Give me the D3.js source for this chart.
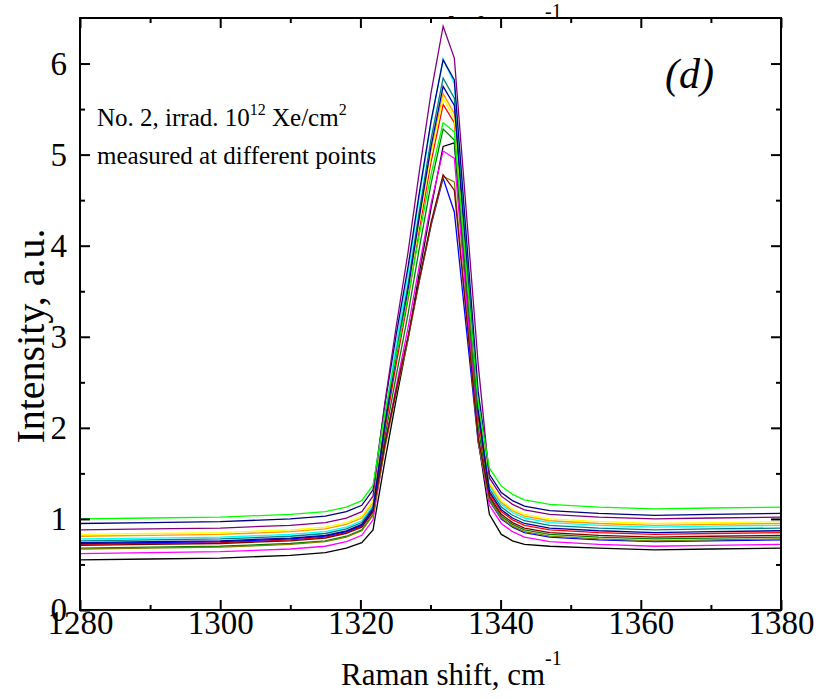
<!DOCTYPE html>
<html lang="en">
<head>
    <meta charset="UTF-8">
    <title>Raman spectra, No. 2 irradiated</title>
    <script src="https://d3js.org/d3.v7.min.js"></script>
    <style>
        body {
            margin: 0;
            background: white;
        }

        .spectrum {
            fill: none;
            stroke-width: 1.3;
            stroke-linejoin: miter;
        }

        .axis line {
            stroke: #000;
            stroke-width: 2;
        }

        .axis path {
            display: none;
        }
    </style>
</head>
<body>
    <svg id="chart" width="818" height="699"></svg>

    <script>
        // Raman shift (cm-1) of the sampled points
        const ramanShift = [1280, 1290, 1300, 1310, 1315, 1318, 1320.2, 1321.8, 1323.5, 1325.1, 1326.8,
            1328.4, 1330.1, 1331.8, 1333.4, 1335.1, 1336.8, 1338.4, 1340.1, 1341.7, 1343.4,
            1347, 1354, 1362, 1370, 1380];

        // intensity measured at different points (a.u.)
        const ptBlack   = [0.55, 0.56, 0.57, 0.60, 0.63, 0.68, 0.74, 0.88, 1.64, 2.31, 2.98, 3.70, 4.42, 5.09, 5.13, 3.50, 1.87, 1.05, 0.83, 0.76, 0.72, 0.70, 0.68, 0.66, 0.67, 0.68];
        const ptMagenta = [0.62, 0.63, 0.64, 0.67, 0.70, 0.75, 0.82, 0.99, 1.80, 2.45, 3.10, 3.78, 4.47, 5.04, 4.96, 3.43, 1.89, 1.15, 0.95, 0.86, 0.80, 0.75, 0.72, 0.70, 0.71, 0.72];
        const ptOlive   = [0.67, 0.68, 0.69, 0.72, 0.75, 0.80, 0.87, 1.04, 1.78, 2.38, 2.97, 3.61, 4.24, 4.76, 4.70, 3.28, 1.85, 1.21, 1.01, 0.92, 0.86, 0.81, 0.78, 0.76, 0.77, 0.78];
        const ptGreen   = [0.68, 0.69, 0.70, 0.73, 0.76, 0.81, 0.88, 1.05, 1.90, 2.57, 3.25, 3.97, 4.69, 5.28, 5.16, 3.59, 2.01, 1.23, 1.03, 0.94, 0.88, 0.83, 0.80, 0.78, 0.79, 0.80];
        const ptWine    = [0.71, 0.72, 0.73, 0.76, 0.79, 0.84, 0.91, 1.08, 1.82, 2.41, 3.00, 3.63, 4.26, 4.78, 4.61, 3.25, 1.89, 1.25, 1.05, 0.96, 0.90, 0.85, 0.82, 0.80, 0.81, 0.82];
        const ptRed     = [0.72, 0.73, 0.74, 0.77, 0.80, 0.85, 0.92, 1.09, 1.98, 2.70, 3.41, 4.17, 4.93, 5.55, 5.35, 3.74, 2.12, 1.28, 1.08, 0.99, 0.93, 0.88, 0.85, 0.83, 0.84, 0.85];
        const ptBlue    = [0.73, 0.74, 0.75, 0.78, 0.81, 0.86, 0.93, 1.10, 1.83, 2.41, 2.99, 3.61, 4.23, 4.74, 4.37, 3.10, 1.84, 1.20, 1.00, 0.91, 0.85, 0.80, 0.77, 0.75, 0.76, 0.77];
        const ptRoyal   = [0.74, 0.75, 0.76, 0.79, 0.82, 0.87, 0.94, 1.11, 2.04, 2.78, 3.52, 4.31, 5.10, 5.75, 5.54, 3.87, 2.19, 1.30, 1.10, 1.01, 0.95, 0.90, 0.87, 0.85, 0.86, 0.87];
        const ptDarkCyan = [0.76, 0.77, 0.78, 0.81, 0.84, 0.89, 0.96, 1.13, 2.07, 2.83, 3.58, 4.38, 5.18, 5.84, 5.62, 3.93, 2.23, 1.33, 1.13, 1.04, 0.98, 0.93, 0.90, 0.88, 0.89, 0.90];
        const ptCyan    = [0.78, 0.79, 0.80, 0.83, 0.86, 0.91, 0.98, 1.15, 2.13, 2.91, 3.70, 4.53, 5.36, 6.05, 5.78, 4.05, 2.31, 1.36, 1.16, 1.07, 1.01, 0.96, 0.93, 0.91, 0.92, 0.93];
        const ptOrange  = [0.81, 0.82, 0.83, 0.86, 0.89, 0.94, 1.01, 1.18, 2.08, 2.80, 3.51, 4.28, 5.04, 5.67, 5.45, 3.84, 2.22, 1.38, 1.18, 1.09, 1.03, 0.98, 0.95, 0.93, 0.94, 0.95];
        const ptYellow  = [0.83, 0.84, 0.85, 0.88, 0.91, 0.96, 1.03, 1.20, 2.08, 2.79, 3.50, 4.25, 5.00, 5.62, 5.40, 3.82, 2.23, 1.40, 1.20, 1.11, 1.05, 1.00, 0.97, 0.95, 0.96, 0.97];
        const ptPurple  = [0.88, 0.89, 0.90, 0.93, 0.96, 1.01, 1.08, 1.25, 2.28, 3.11, 3.93, 4.81, 5.69, 6.41, 6.06, 4.38, 2.70, 1.45, 1.25, 1.16, 1.10, 1.05, 1.02, 1.00, 1.01, 1.02];
        const ptNavy    = [0.95, 0.96, 0.97, 1.00, 1.03, 1.08, 1.15, 1.32, 2.26, 3.02, 3.77, 4.58, 5.38, 6.04, 5.82, 4.11, 2.40, 1.49, 1.29, 1.20, 1.14, 1.09, 1.06, 1.04, 1.05, 1.06];
        const ptLime    = [1.00, 1.01, 1.02, 1.05, 1.08, 1.13, 1.20, 1.37, 2.17, 2.80, 3.44, 4.12, 4.79, 5.35, 5.25, 3.76, 2.27, 1.56, 1.36, 1.27, 1.21, 1.16, 1.13, 1.11, 1.12, 1.13];

        const xTicks = [1280, 1300, 1320, 1340, 1360, 1380];
        const yTicks = [0, 1, 2, 3, 4, 5, 6];

        const spectra = [
            { values: ptBlack, color: '#000000' },
            { values: ptRed, color: '#ff0000' },
            { values: ptGreen, color: '#008000' },
            { values: ptBlue, color: '#0000ff' },
            { values: ptCyan, color: '#00ffff' },
            { values: ptMagenta, color: '#ff00ff' },
            { values: ptOrange, color: '#ff9900' },
            { values: ptYellow, color: '#ffff00' },
            { values: ptOlive, color: '#808000' },
            { values: ptNavy, color: '#000080' },
            { values: ptPurple, color: '#800080' },
            { values: ptWine, color: '#800000' },
            { values: ptDarkCyan, color: '#008080' },
            { values: ptRoyal, color: '#0000a0' },
            { values: ptLime, color: '#00ff00' }
        ];

        const serif = '"Liberation Serif"';
        const plot = { left: 80, right: 781, top: 18, bottom: 610 };
        const svg = d3.select('#chart');

        const x = d3.scaleLinear().domain([1280, 1380]).range([plot.left, plot.right]);
        const y = d3.scaleLinear().domain([0, 6.5]).range([plot.bottom, plot.top]);

        // the same axis title is drawn on top; the plot area hides most of it
        function axisTitle(baseline) {
            const t = svg.append('text')
                .attr('x', 341)
                .attr('y', baseline)
                .attr('font-family', serif)
                .attr('font-size', 31);
            t.append('tspan').text('Raman shift, cm');
            t.append('tspan').attr('dy', -20).attr('font-size', 20).text('-1');
        }
        axisTitle(38);

        svg.append('rect')
            .attr('x', plot.left)
            .attr('y', plot.top)
            .attr('width', plot.right - plot.left)
            .attr('height', plot.bottom - plot.top)
            .attr('fill', 'white');

        svg.append('clipPath').attr('id', 'clip')
            .append('rect')
            .attr('x', plot.left)
            .attr('y', plot.top)
            .attr('width', plot.right - plot.left)
            .attr('height', plot.bottom - plot.top);

        const line = d3.line()
            .x((d, i) => x(ramanShift[i]))
            .y(d => y(d));

        svg.append('g')
            .attr('clip-path', 'url(#clip)')
            .selectAll('path')
            .data(spectra)
            .join('path')
            .attr('class', 'spectrum')
            .attr('fill', 'none')
            .attr('stroke', d => d.color)
            .attr('d', d => line(d.values));

        // axes: major and minor ticks pointing inward
        const minorX = d3.range(1290, 1380, 20);
        const minorY = d3.range(0.5, 6.5, 1);
        const fmt = d3.format('d');

        function styleLabels(g) {
            g.attr('font-family', serif).attr('font-size', 33);
            g.selectAll('text').attr('font-family', serif).attr('font-size', 33).attr('fill', '#000');
        }

        svg.append('g').attr('class', 'axis')
            .attr('transform', `translate(0,${plot.bottom})`)
            .call(d3.axisBottom(x).tickValues(xTicks).tickSize(-10).tickPadding(1).tickFormat(fmt))
            .call(styleLabels);
        svg.append('g').attr('class', 'axis')
            .attr('transform', `translate(0,${plot.bottom})`)
            .call(d3.axisBottom(x).tickValues(minorX).tickSize(-5).tickFormat(''));

        svg.append('g').attr('class', 'axis')
            .attr('transform', `translate(0,${plot.top})`)
            .call(d3.axisTop(x).tickValues(xTicks).tickSize(-10).tickFormat(''));
        svg.append('g').attr('class', 'axis')
            .attr('transform', `translate(0,${plot.top})`)
            .call(d3.axisTop(x).tickValues(minorX).tickSize(-5).tickFormat(''));

        svg.append('g').attr('class', 'axis')
            .attr('transform', `translate(${plot.left},0)`)
            .call(d3.axisLeft(y).tickValues(yTicks).tickSize(-10).tickPadding(13).tickFormat(fmt))
            .call(styleLabels);
        svg.append('g').attr('class', 'axis')
            .attr('transform', `translate(${plot.left},0)`)
            .call(d3.axisLeft(y).tickValues(minorY).tickSize(-5).tickFormat(''));

        svg.append('g').attr('class', 'axis')
            .attr('transform', `translate(${plot.right},0)`)
            .call(d3.axisRight(y).tickValues(yTicks).tickSize(-10).tickFormat(''));
        svg.append('g').attr('class', 'axis')
            .attr('transform', `translate(${plot.right},0)`)
            .call(d3.axisRight(y).tickValues(minorY).tickSize(-5).tickFormat(''));

        svg.append('rect')
            .attr('x', plot.left)
            .attr('y', plot.top)
            .attr('width', plot.right - plot.left)
            .attr('height', plot.bottom - plot.top)
            .attr('fill', 'none')
            .attr('stroke', '#000')
            .attr('stroke-width', 2);

        axisTitle(685);

        svg.append('text')
            .attr('transform', 'translate(44,336) rotate(-90)')
            .attr('text-anchor', 'middle')
            .attr('font-family', serif)
            .attr('font-size', 40)
            .text('Intensity, a.u.');

        // annotation
        const note = svg.append('text')
            .attr('x', 97)
            .attr('y', 126)
            .attr('font-family', serif)
            .attr('font-size', 25);
        note.append('tspan').text('No. 2, irrad. 10');
        note.append('tspan').attr('dy', -11).attr('font-size', 16).text('12');
        note.append('tspan').attr('dy', 11).text(' Xe/cm');
        note.append('tspan').attr('dy', -11).attr('font-size', 16).text('2');

        svg.append('text')
            .attr('x', 97)
            .attr('y', 164)
            .attr('font-family', serif)
            .attr('font-size', 25)
            .text('measured at different points');

        svg.append('text')
            .attr('x', 665)
            .attr('y', 88)
            .attr('font-family', serif)
            .attr('font-size', 42)
            .attr('font-style', 'italic')
            .text('(d)');
    </script>
</body>
</html>
